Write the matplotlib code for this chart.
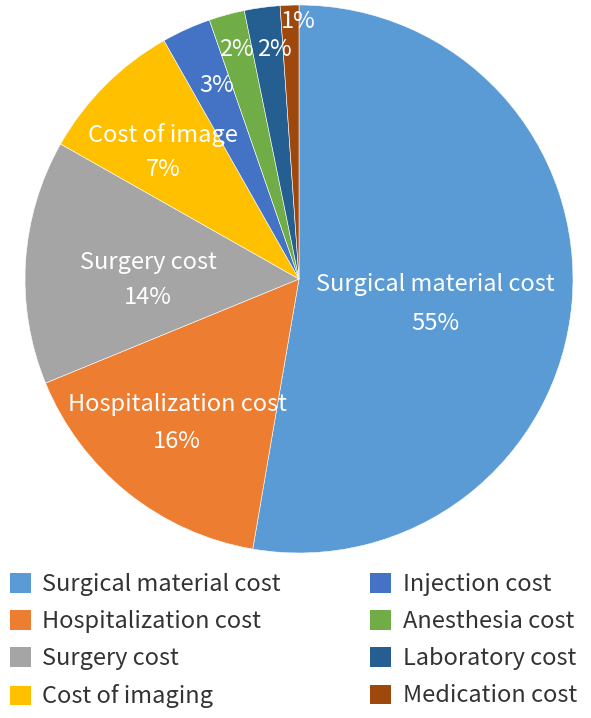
import matplotlib
matplotlib.use("Agg")
import matplotlib.pyplot as plt
from matplotlib.patches import Patch

plt.rcParams['font.family'] = ['Noto Sans CJK KR', 'DejaVu Sans']

categories = ["Surgical material cost", "Hospitalization cost", "Surgery cost", "Cost of imaging",
              "Injection cost", "Anesthesia cost", "Laboratory cost", "Medication cost"]
shares = [52.7, 16.1, 14.4, 8.6, 2.9, 2.1, 2.1, 1.1]
slice_names = ["Surgical material cost", "Hospitalization cost", "Surgery cost", "Cost of image",
               None, None, None, None]
pct_labels = ["55%", "16%", "14%", "7%", "3%", "2%", "2%", "1%"]
colors = ["#5B9BD5", "#ED7D31", "#A5A5A5", "#FFC000", "#4472C4", "#70AD47", "#255E91", "#9E480E"]

W, H = 591, 718
fig = plt.figure(figsize=(W / 100, H / 100), dpi=100)
cx, cy, r = 299, 279, 274
ax = fig.add_axes([(cx - r) / W, (H - cy - r) / H, 2 * r / W, 2 * r / H])
ax.pie(shares, colors=colors, startangle=90, counterclock=False, radius=1,
       wedgeprops=dict(edgecolor="white", linewidth=0.4))
ax.set_xlim(-1, 1)
ax.set_ylim(-1, 1)
ax.set_aspect("equal")
ax.axis("off")

def px(x, y):
    return (x - cx) / r, (cy - y) / r

name_pos = [(435, 285), (177, 405), (148, 262), (163, 135), None, None, None, None]
pct_pos = [(435, 323), (177, 441), (148, 298), (163, 170), (217, 86), (236, 50), (274, 50), (298, 22)]
fs = 17
for i in range(len(shares)):
    if slice_names[i] is not None:
        ax.text(*px(*name_pos[i]), slice_names[i], color="white", fontsize=fs,
                ha="center", va="center", fontweight="medium")
    ax.text(*px(*pct_pos[i]), pct_labels[i], color="white", fontsize=fs,
            ha="center", va="center", fontweight="medium")

handles = [Patch(facecolor=c, edgecolor="none") for c in colors]
fig.legend(handles, categories, loc="upper left", bbox_to_anchor=(10 / W, 1 - 573 / H),
           ncol=2, frameon=False, fontsize=17, handlelength=0.89, handleheight=0.89,
           handletextpad=0.47, columnspacing=3.8, labelspacing=0.6, borderaxespad=0.0,
           borderpad=0.0, labelcolor="#333333")

fig.savefig("out.png", dpi=100)
